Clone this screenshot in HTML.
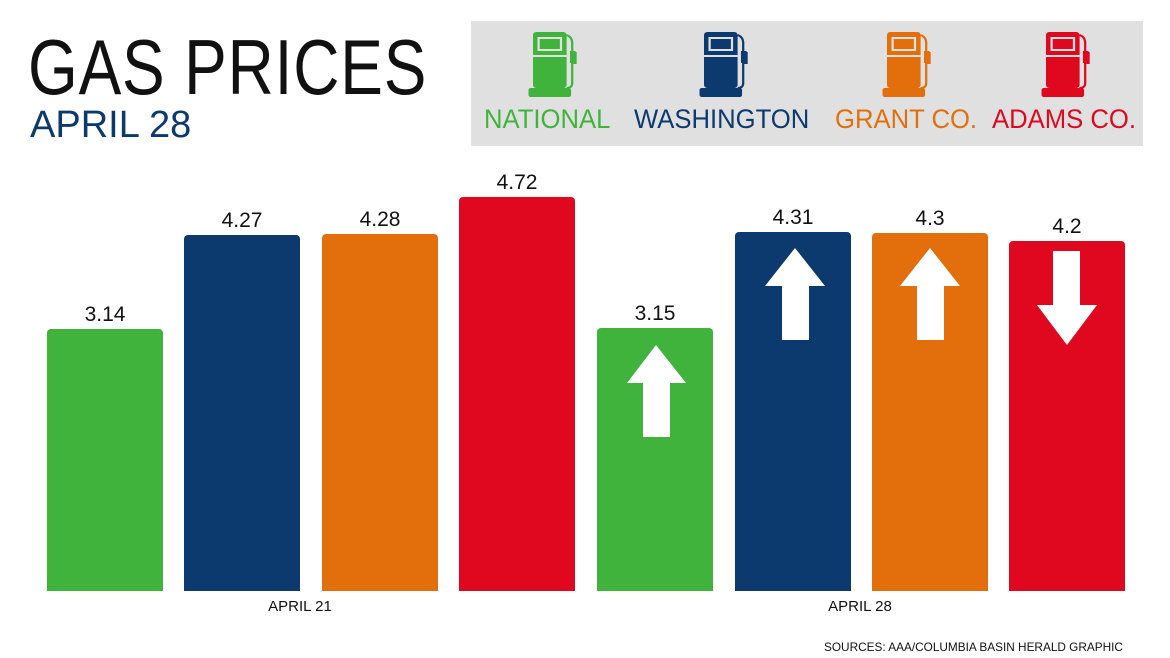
<!DOCTYPE html>
<html><head><style>
body{margin:0;width:1170px;height:658px;background:#fff;position:relative;overflow:hidden;font-family:"Liberation Sans",sans-serif}
.a{position:absolute}
.bar{position:absolute;border-radius:4px 4px 0 0;bottom:67px;width:116px}
.v{position:absolute;width:116px;text-align:center;font-size:21px;color:#111}
.lab{position:absolute;top:104px;font-size:27px;white-space:nowrap;transform:scaleX(0.95);transform-origin:left}
</style></head><body>
<div class="a" style="left:28px;top:22px;font-size:78px;color:#111;letter-spacing:1px;transform:scaleX(0.82);transform-origin:left">GAS PRICES</div>
<div class="a" style="left:30px;top:104px;font-size:38px;color:#0c3a6e">APRIL 28</div>
<div class="a" style="left:471px;top:21px;width:672px;height:125px;background:#e0e0e0"></div>
<svg class="a" style="left:0;top:0" width="1170" height="150">
<defs><g id="p" transform="scale(1.12,1)"><rect x="0" y="0" width="30" height="56" rx="3"/><rect x="-4" y="56" width="38" height="9" rx="2"/><rect x="5" y="6" width="20" height="12" fill="none" stroke="#e0e0e0" stroke-width="2"/><line x1="0" y1="24" x2="30" y2="24" stroke="#e0e0e0" stroke-width="2"/><path d="M30 3 q5 2 5 8 v10 h3 v10 h-3 v20 q0 5 -5 5" fill="none" stroke-width="2" stroke="currentColor"/><rect x="33" y="19" width="5" height="12"/></g></defs>
<use href="#p" x="533" y="32" fill="#3fb33c" color="#3fb33c"/>
<use href="#p" x="704" y="32" fill="#0c3a6e" color="#0c3a6e"/>
<use href="#p" x="887" y="32" fill="#e36f0c" color="#e36f0c"/>
<use href="#p" x="1046" y="32" fill="#e0081f" color="#e0081f"/>
</svg>
<div class="lab" style="left:484px;color:#3fb33c">NATIONAL</div>
<div class="lab" style="left:634px;color:#0c3a6e">WASHINGTON</div>
<div class="lab" style="left:835px;color:#e36f0c">GRANT CO.</div>
<div class="lab" style="left:992px;color:#e0081f">ADAMS CO.</div>

<div class="bar" style="left:47px;top:329px;background:#3fb33c"></div><div class="v" style="left:47px;top:303px">3.14</div>
<div class="bar" style="left:184px;top:235px;background:#0c3a6e"></div><div class="v" style="left:184px;top:209px">4.27</div>
<div class="bar" style="left:322px;top:234px;background:#e36f0c"></div><div class="v" style="left:322px;top:208px">4.28</div>
<div class="bar" style="left:459px;top:197px;background:#e0081f"></div><div class="v" style="left:459px;top:171px">4.72</div>
<div class="bar" style="left:597px;top:328px;background:#3fb33c"></div><div class="v" style="left:597px;top:302px">3.15</div>
<div class="bar" style="left:735px;top:232px;background:#0c3a6e"></div><div class="v" style="left:735px;top:206px">4.31</div>
<div class="bar" style="left:872px;top:233px;background:#e36f0c"></div><div class="v" style="left:872px;top:207px">4.3</div>
<div class="bar" style="left:1009px;top:241px;background:#e0081f"></div><div class="v" style="left:1009px;top:215px">4.2</div>
<svg class="a" style="left:0;top:0" width="1170" height="600" fill="#fff">
<path d="M656 345 L686 383 L670 383 L670 437 L643 437 L643 383 L627 383Z"/>
<path d="M795 248 L825 286 L809 286 L809 340 L782 340 L782 286 L765 286Z"/>
<path d="M930 248 L960 286 L944 286 L944 340 L917 340 L917 286 L900 286Z"/>
<path d="M1067 345 L1097 305 L1080 305 L1080 251 L1053 251 L1053 305 L1037 305Z"/>
</svg>
<div class="a" style="left:240px;top:598px;width:120px;text-align:center;font-size:15px;color:#111">APRIL 21</div>
<div class="a" style="left:800px;top:598px;width:120px;text-align:center;font-size:15px;color:#111">APRIL 28</div>
<div class="a" style="left:824px;top:640px;font-size:11.8px;color:#111">SOURCES: AAA/COLUMBIA BASIN HERALD GRAPHIC</div>
</body></html>
